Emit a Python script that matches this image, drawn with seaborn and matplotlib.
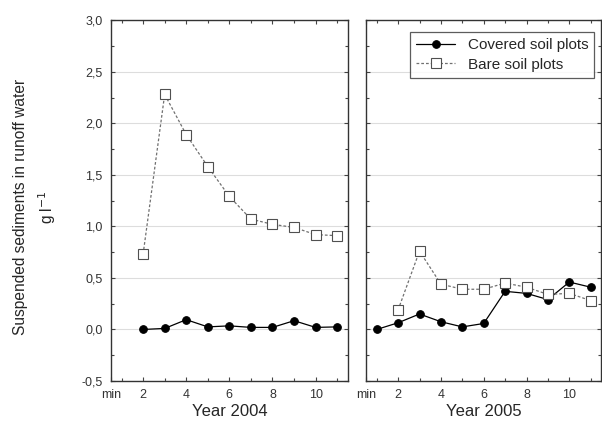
import numpy as np
import pandas as pd
import matplotlib
matplotlib.use('Agg')
import matplotlib.pyplot as plt
import seaborn as sns
from matplotlib.ticker import MultipleLocator, FuncFormatter

# ── data ────────────────────────────────────────────────────────
minutes_2004   = [2, 3, 4, 5, 6, 7, 8, 9, 10, 11]
covered_2004   = [0.00, 0.01, 0.095, 0.025, 0.035, 0.02, 0.02, 0.085, 0.02, 0.025]
bare_2004      = [0.73, 2.28, 1.89, 1.58, 1.29, 1.07, 1.02, 0.99, 0.92, 0.91]

minutes_2005c  = [1, 2, 3, 4, 5, 6, 7, 8, 9, 10, 11]
covered_2005   = [0.00, 0.065, 0.15, 0.075, 0.025, 0.058, 0.37, 0.35, 0.29, 0.46, 0.41]
minutes_2005b  = [2, 3, 4, 5, 6, 7, 8, 9, 10, 11]
bare_2005      = [0.19, 0.76, 0.44, 0.39, 0.39, 0.45, 0.41, 0.34, 0.35, 0.28]

panel_titles   = ['Year 2004', 'Year 2005']
series_names   = ['Covered soil plots', 'Bare soil plots']
x_ticks        = [0.5, 2, 4, 6, 8, 10]
x_ticklabels   = ['min', '2', '4', '6', '8', '10']

sns.set_style('white')
plt.rcParams['font.family'] = ['Liberation Sans', 'DejaVu Sans']

fig = plt.figure(figsize=(6.02, 4.21), dpi=100)
ax1 = fig.add_axes([0.184, 0.095, 0.394, 0.857])
ax2 = fig.add_axes([0.608, 0.095, 0.391, 0.857])

covered_kw = dict(color='black', linewidth=0.9, marker='o', markersize=5.5,
                  markerfacecolor='black', markeredgecolor='black')
bare_kw = dict(color='#707070', linewidth=0.9, linestyle=(0, (2.2, 1.6)),
               marker='s', markersize=6.5, markerfacecolor='white',
               markeredgecolor='#505050', markeredgewidth=0.8)

panels = [
    (ax1, minutes_2004, covered_2004, minutes_2004, bare_2004),
    (ax2, minutes_2005c, covered_2005, minutes_2005b, bare_2005),
]

for i, (ax, xc, yc, xb, yb) in enumerate(panels):
    sns.lineplot(x=xc, y=yc, ax=ax, label=series_names[0], **covered_kw)
    sns.lineplot(x=xb, y=yb, ax=ax, label=series_names[1], **bare_kw)
    ax.set_xlim(0.5, 11.5)
    ax.set_ylim(-0.5, 3.0)
    ax.yaxis.set_major_locator(MultipleLocator(0.5))
    ax.yaxis.set_minor_locator(MultipleLocator(0.25))
    ax.xaxis.set_minor_locator(MultipleLocator(1))
    ax.set_xticks(x_ticks, x_ticklabels)
    ax.grid(axis='y', which='major', color='#dddddd', linewidth=0.8)
    ax.set_axisbelow(True)
    for sp in ax.spines.values():
        sp.set_color('#333333')
        sp.set_linewidth(1.0)
    ax.tick_params(which='both', direction='in', top=True, right=True,
                   left=True, bottom=True, color='#444444', width=0.8)
    ax.tick_params(which='major', length=3, labelsize=9, labelcolor='#333333', pad=6)
    ax.tick_params(which='minor', length=2)
    ax.set_xlabel(panel_titles[i], fontsize=12, labelpad=2)
    ax.set_ylabel('')
    if ax.get_legend() is not None:
        ax.get_legend().remove()

ax1.yaxis.set_major_formatter(FuncFormatter(lambda v, p: f'{v:.1f}'.replace('.', ',')))
ax2.tick_params(axis='y', labelleft=False)

leg = ax2.legend(loc='upper right', fontsize=11, frameon=True, fancybox=False,
                 edgecolor='#333333', handlelength=2.6, borderpad=0.4,
                 labelspacing=0.35, borderaxespad=0,
                 bbox_to_anchor=(0.97, 0.967))
leg.get_frame().set_linewidth(0.9)

fig.text(0.034, 0.508, 'Suspended sediments in runoff water', rotation=90,
         ha='center', va='center', fontsize=11.2)
fig.text(0.079, 0.508, r'g l$^{-1}$', rotation=90,
         ha='center', va='center', fontsize=11.2)

fig.savefig('out.png', dpi=100)
